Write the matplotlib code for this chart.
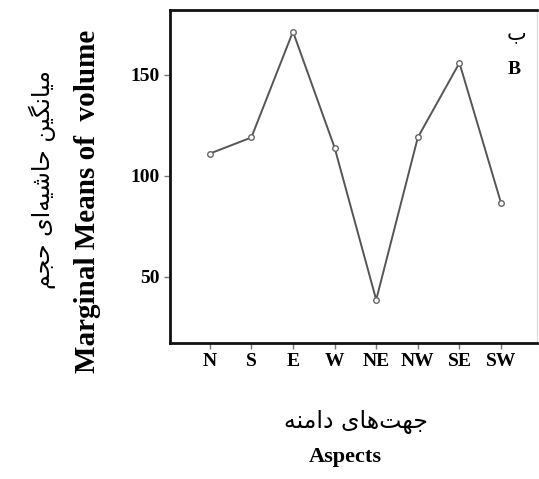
import matplotlib
matplotlib.use("Agg")
import matplotlib.pyplot as plt

aspects = ["N", "S", "E", "W", "NE", "NW", "SE", "SW"]
marginal_means = [111, 119, 171.5, 114, 38.5, 119, 156, 86.5]
y_ticks = [50, 100, 150]

# Persian labels, pre-shaped (presentation forms, visual order)
fa_ylabel = "\ufee2\ufea0\ufea3 \ufbfc\ufe8d\ufeea\ufbff\ufeb7\ufe8e\ufea3 \ufee6\ufbff\ufb95\ufee7\ufe8e\ufbff\ufee3"
fa_xlabel = "\ufeea\ufee8\ufee3\ufe8d\ufea9 \ufbfc\ufe8e\ufeeb\ufe96\ufeec\ufe9f"
fa_panel = "\ufe8f"

serif = "Liberation Serif"

fig = plt.figure(figsize=(5.39, 4.79), dpi=100)
ax = fig.add_axes([0.315, 0.284, 0.681, 0.695])

x = list(range(1, len(aspects) + 1))
ax.plot(x, marginal_means, color="#555555", linewidth=1.4, marker="o",
        markersize=4, markerfacecolor="white", markeredgecolor="#666666",
        markeredgewidth=1.0)

ax.set_xlim(0.04, 8.86)
ax.set_ylim(17.1, 182.2)
ax.set_xticks(x)
ax.set_xticklabels(aspects, fontfamily=serif, fontweight="bold", fontsize=14)
ax.set_yticks(y_ticks)
ax.set_yticklabels([str(v) for v in y_ticks], fontfamily=serif,
                   fontweight="bold", fontsize=14)
ax.tick_params(axis="both", direction="out", length=4, width=1,
               color="#777777", pad=3)

for side in ["left", "top", "bottom"]:
    ax.spines[side].set_linewidth(2)
    ax.spines[side].set_color("#111111")
ax.spines["right"].set_color("#dddddd")
ax.spines["right"].set_linewidth(1)

fig.text(88 / 539, 1 - 201 / 479, "Marginal Means of  volume", rotation=90,
         ha="center", va="center", fontfamily=serif, fontweight="bold",
         fontsize=21)
fig.text(42 / 539, 1 - 180 / 479, fa_ylabel, rotation=90, ha="center",
         va="center", fontfamily="DejaVu Sans", fontsize=17)

fig.text(356 / 539, 1 - 422 / 479, fa_xlabel, ha="center", va="center",
         fontfamily="DejaVu Sans", fontsize=17)
fig.text(345 / 539, 1 - 457 / 479, "Aspects", ha="center", va="center",
         fontfamily=serif, fontweight="bold", fontsize=16)

fig.text(517 / 539, 1 - 33 / 479, fa_panel, ha="center", va="center",
         fontfamily="DejaVu Sans", fontsize=15)
fig.text(514 / 539, 1 - 70 / 479, "B", ha="center", va="center",
         fontfamily=serif, fontweight="bold", fontsize=14)

fig.savefig("out.png", dpi=100)
